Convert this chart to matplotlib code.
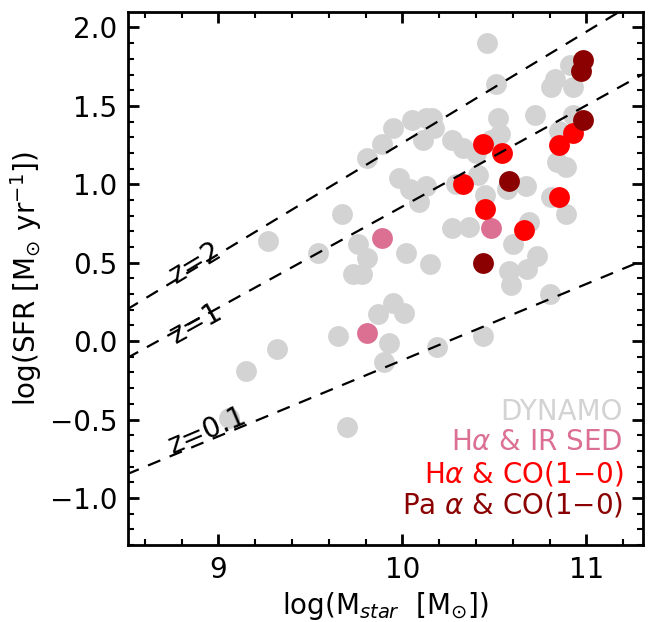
import numpy as np
import matplotlib
matplotlib.use('Agg')
import matplotlib.pyplot as plt

# DYNAMO sample (grey)
dyn_m = [10.46, 10.91, 10.51, 10.83, 10.81, 10.93, 10.52, 10.72, 10.93, 10.16,
         10.13, 10.05, 9.95, 10.17, 10.11, 9.89, 9.81, 10.27, 10.33, 10.40,
         10.48, 10.53, 10.85, 10.84, 10.89, 9.98, 10.04, 10.13, 10.09, 10.41,
         10.29, 10.45, 10.57, 10.67, 10.81, 10.89, 9.67, 10.27, 10.36, 10.69,
         10.60, 10.73, 10.58, 10.68, 10.59, 10.80, 10.15, 10.02, 9.81, 9.76,
         9.54, 9.27, 9.73, 9.78, 9.95, 9.87, 10.01, 9.65, 9.93, 9.90,
         9.32, 9.15, 9.06, 9.70, 10.44, 10.19]
dyn_sfr = [1.90, 1.76, 1.64, 1.67, 1.62, 1.62, 1.42, 1.44, 1.44, 1.42,
           1.42, 1.41, 1.36, 1.36, 1.28, 1.26, 1.17, 1.28, 1.23, 1.20,
           1.28, 1.32, 1.34, 1.14, 1.11, 1.04, 0.97, 0.99, 0.89, 1.06,
           1.00, 0.93, 0.97, 0.99, 0.92, 0.81, 0.81, 0.72, 0.73, 0.76,
           0.62, 0.54, 0.45, 0.46, 0.36, 0.30, 0.49, 0.56, 0.53, 0.62,
           0.56, 0.64, 0.43, 0.43, 0.24, 0.17, 0.18, 0.03, -0.01, -0.13,
           -0.05, -0.19, -0.49, -0.55, 0.03, -0.04]

# Halpha & IR SED
ir_m = [9.89, 9.81, 10.48]
ir_sfr = [0.66, 0.05, 0.72]

# Halpha & CO(1-0)
co_m = [10.44, 10.54, 10.93, 10.85, 10.33, 10.85, 10.45, 10.66]
co_sfr = [1.26, 1.20, 1.33, 1.25, 1.00, 0.92, 0.84, 0.71]

# Pa alpha & CO(1-0)
pa_m = [10.98, 10.97, 10.98, 10.58, 10.44]
pa_sfr = [1.79, 1.72, 1.41, 1.02, 0.50]

# main sequence lines (two end points each)
ms_x = [8.5, 11.32]
ms_z01 = [-0.85, 0.52]
ms_z1 = [-0.11, 1.71]
ms_z2 = [0.20, 2.20]

fs = 20
plt.rcParams['font.size'] = fs

fig = plt.figure(figsize=(6.48, 6.22), dpi=100)
ax = fig.add_axes([0.198, 0.1238, 0.7948, 0.8572])

s = 225
ax.scatter(dyn_m, dyn_sfr, s=s, c='lightgray', lw=0, zorder=2)
ax.scatter(ir_m, ir_sfr, s=s, c='palevioletred', lw=0, zorder=3)
ax.scatter(co_m, co_sfr, s=s, c='red', lw=0, zorder=4)
ax.scatter(pa_m, pa_sfr, s=s, c='darkred', lw=0, zorder=5)

for yy in [ms_z01, ms_z1, ms_z2]:
    ax.plot(ms_x, yy, color='k', lw=1.6, ls=(0, (6, 4.5)), zorder=6)

ax.text(8.877, 0.50, 'z=2', rotation=31, ha='center', va='center',
        rotation_mode='anchor', fontsize=fs, zorder=7)
ax.text(8.88, 0.115, 'z=1', rotation=29, ha='center', va='center',
        rotation_mode='anchor', fontsize=fs, zorder=7)
ax.text(8.94, -0.57, 'z=0.1', rotation=23, ha='center', va='center',
        rotation_mode='anchor', fontsize=fs, zorder=7)

ax.set_xlim(8.51, 11.31)
ax.set_ylim(-1.3, 2.1)
ax.set_xticks([9, 10, 11])
ax.set_xticks(np.arange(8.6, 11.3, 0.2), minor=True)
ax.set_yticks([-1.0, -0.5, 0.0, 0.5, 1.0, 1.5, 2.0])
ax.set_yticks(np.arange(-1.3, 2.1, 0.1), minor=True)
ax.tick_params(which='both', direction='in', top=True, right=True)
ax.tick_params(which='major', length=8, width=2, labelsize=fs, pad=8)
ax.tick_params(which='minor', length=4.5, width=1.5)
for sp in ax.spines.values():
    sp.set_linewidth(2)

ax.set_xlabel(r'log(M$_{star}$  [M$_{\odot}$])', fontsize=fs, labelpad=4)
ax.set_ylabel(r'log(SFR [M$_{\odot}$ yr$^{-1}$])', fontsize=fs, labelpad=4)

lx = 11.2
ax.text(lx, -0.45, 'DYNAMO', color='lightgray', ha='right', va='center', fontsize=fs)
ax.text(lx, -0.645, r'H$\alpha$ & IR SED', color='palevioletred', ha='right', va='center', fontsize=fs)
ax.text(lx, -0.845, r'H$\alpha$ & CO(1$-$0)', color='red', ha='right', va='center', fontsize=fs)
ax.text(lx, -1.045, r'Pa $\alpha$ & CO(1$-$0)', color='darkred', ha='right', va='center', fontsize=fs)

fig.savefig('out.png', dpi=100)
